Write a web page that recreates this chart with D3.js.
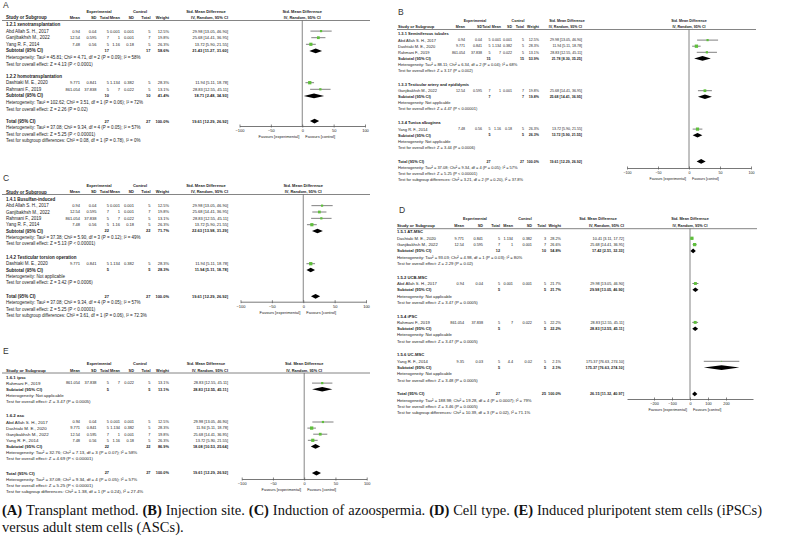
<!DOCTYPE html>
<html>
<head>
<meta charset="utf-8">
<script src="https://cdn.jsdelivr.net/npm/d3@7.9.0/dist/d3.min.js"></script>
<style>
  body { margin: 0; background: #fff; }
  svg { display: block; }
</style>
</head>
<body>
<svg id="fig" width="787" height="540"></svg>
<script>
// study lines: name, exp mean, exp sd, exp n, ctl mean, ctl sd, ctl n, smd, lower, upper
const abdAllah = ["Abd Allah S. H., 2017", "0.94", "0.04", "5", "0.001", "0.001", "5", 29.98, 13.05, 46.90];
const ganjibakhsh = ["Ganjibakhsh M., 2022", "12.54", "0.595", "7", "1", "0.001", "7", 25.68, 14.41, 36.95];
const yang = ["Yang R. F., 2014", "7.48", "0.56", "5", "1.16", "0.18", "5", 13.72, 5.90, 21.55];
const dashtaki = ["Dashtaki M. E., 2020", "9.771", "0.841", "5", "1.134", "0.382", "5", 11.94, 5.11, 18.78];
const rahmani = ["Rahmani F., 2019", "861.054", "37.838", "5", "7", "0.022", "5", 28.83, 12.55, 45.11];
const dashtakiD = ["Dashtaki M. E., 2020", "9.771", "0.841", "5", "1.134", "0.382", "3", 10.41, 3.11, 17.72];
const yangD = ["Yang R. F., 2014", "9.35", "0.03", "5", "4.4", "0.02", "5", 175.37, 76.63, 274.10];

const totalHet = "Heterogeneity: Tau² = 37.08; Chi² = 9.34, df = 4 (P = 0.05); I² = 57%";
const totalZ = "Test for overall effect: Z = 5.25 (P < 0.00001)";
const notApp = "Heterogeneity: Not applicable";

// g = subgroup title, s = study, sub = subtotal, tot = total, n = note line
const rowsA = [
  ["g", "1.2.1 xenotransplantation"],
  ["s", abdAllah, "12.5%"],
  ["s", ganjibakhsh, "19.8%"],
  ["s", yang, "26.3%"],
  ["sub", "17", "17", "58.6%", 21.43, 11.27, 31.60],
  ["n", "Heterogeneity: Tau² = 45.81; Chi² = 4.71, df = 2 (P = 0.09); I² = 58%"],
  ["n", "Test for overall effect: Z = 4.13 (P < 0.0001)"],
  ["g", "1.2.2 homotransplantation"],
  ["s", dashtaki, "28.3%"],
  ["s", rahmani, "13.1%"],
  ["sub", "10", "10", "41.4%", 18.71, 2.48, 34.93],
  ["n", "Heterogeneity: Tau² = 102.62; Chi² = 3.51, df = 1 (P = 0.06); I² = 72%"],
  ["n", "Test for overall effect: Z = 2.26 (P = 0.02)"],
  ["tot", "27", "27", "100.0%", 19.61, 12.29, 26.92],
  ["n", totalHet],
  ["n", totalZ],
  ["n", "Test for subgroup differences: Chi² = 0.08, df = 1 (P = 0.78), I² = 0%"]
];

const rowsB = [
  ["g", "1.3.1 Seminiferous tubules"],
  ["s", abdAllah, "12.5%"],
  ["s", dashtaki, "28.3%"],
  ["s", rahmani, "13.1%"],
  ["sub", "15", "15", "53.9%", 21.78, 8.30, 35.25],
  ["n", "Heterogeneity: Tau² = 88.11; Chi² = 6.34, df = 2 (P = 0.04); I² = 68%"],
  ["n", "Test for overall effect: Z = 3.17 (P = 0.002)"],
  ["g", "1.3.3 Testicular artery and epididymis"],
  ["s", ganjibakhsh, "19.8%"],
  ["sub", "7", "7", "19.8%", 25.68, 14.41, 36.95],
  ["n", notApp],
  ["n", "Test for overall effect: Z = 4.47 (P < 0.00001)"],
  ["g", "1.3.4 Tunica albuginea"],
  ["s", yang, "26.3%"],
  ["sub", "5", "5", "26.3%", 13.72, 5.90, 21.55],
  ["n", notApp],
  ["n", "Test for overall effect: Z = 3.44 (P = 0.0006)"],
  ["tot", "27", "27", "100.0%", 19.61, 12.29, 26.92],
  ["n", totalHet],
  ["n", totalZ],
  ["n", "Test for subgroup differences: Chi² = 3.21, df = 2 (P = 0.20), I² = 37.8%"]
];

const rowsC = [
  ["g", "1.4.1 Busulfan-induced"],
  ["s", abdAllah, "12.5%"],
  ["s", ganjibakhsh, "19.8%"],
  ["s", rahmani, "13.1%"],
  ["s", yang, "26.3%"],
  ["sub", "22", "22", "71.7%", 22.63, 13.98, 31.29],
  ["n", "Heterogeneity: Tau² = 37.38; Chi² = 5.90, df = 3 (P = 0.12); I² = 49%"],
  ["n", "Test for overall effect: Z = 5.13 (P < 0.00001)"],
  ["g", "1.4.2 Testicular torsion operation"],
  ["s", dashtaki, "28.3%"],
  ["sub", "5", "5", "28.3%", 11.94, 5.11, 18.78],
  ["n", notApp],
  ["n", "Test for overall effect: Z = 3.42 (P = 0.0006)"],
  ["tot", "27", "27", "100.0%", 19.61, 12.29, 26.92],
  ["n", totalHet],
  ["n", totalZ],
  ["n", "Test for subgroup differences: Chi² = 3.61, df = 1 (P = 0.06), I² = 72.3%"]
];

const rowsD = [
  ["g", "1.5.1 AT-MSC"],
  ["s", dashtakiD, "28.2%"],
  ["s", ganjibakhsh, "26.6%"],
  ["sub", "12", "10", "54.8%", 17.42, 2.51, 32.33],
  ["n", "Heterogeneity: Tau² = 93.03; Chi² = 4.98, df = 1 (P = 0.03); I² = 80%"],
  ["n", "Test for overall effect: Z = 2.29 (P = 0.02)"],
  ["g", "1.5.2 UCB-MSC"],
  ["s", abdAllah, "21.7%"],
  ["sub", "5", "5", "21.7%", 29.98, 13.05, 46.90],
  ["n", notApp],
  ["n", "Test for overall effect: Z = 3.47 (P = 0.0005)"],
  ["g", "1.5.4 iPSC"],
  ["s", rahmani, "22.2%"],
  ["sub", "5", "5", "22.2%", 28.83, 12.55, 45.11],
  ["n", notApp],
  ["n", "Test for overall effect: Z = 3.47 (P = 0.0005)"],
  ["g", "1.5.6 UC-MSC"],
  ["s", yangD, "2.1%"],
  ["sub", "5", "5", "2.1%", 175.37, 76.63, 274.10],
  ["n", notApp],
  ["n", "Test for overall effect: Z = 3.48 (P = 0.0005)"],
  ["tot", "27", "25", "100.0%", 26.15, 11.32, 40.97],
  ["n", "Heterogeneity: Tau² = 188.98; Chi² = 19.28, df = 4 (P = 0.0007); I² = 79%"],
  ["n", "Test for overall effect: Z = 3.46 (P = 0.0005)"],
  ["n", "Test for subgroup differences: Chi² = 10.39, df = 3 (P = 0.02), I² = 71.1%"]
];

const rowsE = [
  ["g", "1.6.1 ipsc"],
  ["s", rahmani, "13.1%"],
  ["sub", "5", "5", "13.1%", 28.83, 12.55, 45.11],
  ["n", notApp],
  ["n", "Test for overall effect: Z = 3.47 (P = 0.0005)"],
  ["g", "1.6.2 asc"],
  ["s", abdAllah, "12.5%"],
  ["s", dashtaki, "28.3%"],
  ["s", ganjibakhsh, "19.8%"],
  ["s", yang, "26.3%"],
  ["sub", "22", "22", "86.9%", 18.08, 10.53, 25.64],
  ["n", "Heterogeneity: Tau² = 32.76; Chi² = 7.13, df = 3 (P = 0.07); I² = 58%"],
  ["n", "Test for overall effect: Z = 4.69 (P < 0.00001)"],
  ["tot", "27", "27", "100.0%", 19.61, 12.29, 26.92],
  ["n", totalHet],
  ["n", totalZ],
  ["n", "Test for subgroup differences: Chi² = 1.38, df = 1 (P = 0.24), I² = 27.4%"]
];

const colHeads = ["Mean", "SD", "Total", "Mean", "SD", "Total", "Weight", "IV, Random, 95% CI"];
const ticks100 = [-100, -50, 0, 50, 100];
const ticks200 = [-200, -100, 0, 100, 200];

const captionParts = [
  ["(A)", true], ["Transplant method.", false],
  ["(B)", true], ["Injection site.", false],
  ["(C)", true], ["Induction of azoospermia.", false],
  ["(D)", true], ["Cell type.", false],
  ["(E)", true], ["Induced pluripotent stem cells (iPSCs)", false]
];
const captionLine2 = "versus adult stem cells (ASCs).";

// layout of each panel (pixels)
const colsLeft = [80, 96.5, 109, 120, 134, 150.5, 169, 228];
const layA = { label: "A", lx: 3, ly: 5, nameX: 6, cols: colsLeft, expC: 99, ctlC: 140, smdC: 206,
  head1: 12, head2: 17.5, lineY: 20.5, lineX: [2, 370], row0: 24.5, step: 6.6, gap: 12,
  range: [239.5, 365], domain: [-100, 100], ticks: ticks100, axisY: 126, fs: 4.5, cfs: 4.0 };
const layC = { label: "C", lx: 3, ly: 178, nameX: 6, cols: colsLeft, expC: 99, ctlC: 140, smdC: 206,
  head1: 186, head2: 192, lineY: 194.5, lineX: [2, 370], row0: 199.3, step: 6.35, gap: 13.6,
  range: [240.5, 366], domain: [-100, 100], ticks: ticks100, axisY: 301.7, fs: 4.5, cfs: 4.0 };
const layE = { label: "E", lx: 3, ly: 351, nameX: 6, cols: colsLeft, expC: 99, ctlC: 140, smdC: 206,
  head1: 364, head2: 370.5, lineY: 373, lineX: [2, 370], row0: 377, step: 6.1, gap: 14.5,
  range: [241.7, 366.7], domain: [-100, 100], ticks: ticks100, axisY: 479, fs: 4.4, cfs: 3.9 };
const layB = { label: "B", lx: 398, ly: 12.5, nameX: 398, cols: [465, 482, 490.5, 501, 512, 524, 539, 582],
  expC: 475, ctlC: 518, smdC: 567,
  head1: 21, head2: 27, lineY: 29.5, lineX: [397, 756], row0: 34, step: 6.1, gap: 14,
  range: [627, 751], domain: [-100, 100], ticks: ticks100, axisY: 168, fs: 4.0, cfs: 3.6 };
const layD = { label: "D", lx: 399, ly: 210.5, nameX: 397, cols: [464, 483, 500, 513, 532, 546, 561, 624],
  expC: 475, ctlC: 525, smdC: 598,
  head1: 219, head2: 226, lineY: 228.7, lineX: [397, 757], row0: 232, step: 6.3, gap: 13.7,
  range: [627, 753], domain: [-350, 350], ticks: ticks200, axisY: 399, fs: 4.2, cfs: 3.8 };

const svg = d3.select("#fig");
const FONT = "'Liberation Sans', Arial, sans-serif";
const ink = "#222";
const green = "#5fbf3c";

const fmt = v => v.toFixed(2);
const ciText = (m, lo, hi) => `${fmt(m)} [${fmt(lo)}, ${fmt(hi)}]`;

function drawPanel(rows, L) {
  const g = svg.append("g").style("font-family", FONT);
  const x = d3.scaleLinear().domain(L.domain).range(L.range);

  const txt = (s, xx, yy, anchor, bold, size) => g.append("text")
    .attr("x", xx).attr("y", yy).attr("dy", "0.35em")
    .attr("text-anchor", anchor || "start")
    .attr("font-size", size || L.fs)
    .attr("font-weight", bold ? "bold" : "normal")
    .attr("fill", ink)
    .text(s);

  // panel letter
  txt(L.label, L.lx, L.ly, "start", false, 8.5).attr("fill", "#333");

  // headers
  txt("Experimental", L.expC, L.head1, "middle", true, L.cfs);
  txt("Control", L.ctlC, L.head1, "middle", true, L.cfs);
  txt("Std. Mean Difference", L.smdC, L.head1, "middle", true, L.cfs);
  txt("Std. Mean Difference", x(0), L.head1, "middle", true, L.cfs);
  txt("Study or Subgroup", L.nameX, L.head2, "start", true);
  colHeads.forEach((h, i) => txt(h, L.cols[i], L.head2, "end", true, L.cfs));
  txt("IV, Random, 95% CI", x(0), L.head2, "middle", true, L.cfs);

  g.append("line")
    .attr("x1", L.lineX[0]).attr("x2", L.lineX[1])
    .attr("y1", L.lineY).attr("y2", L.lineY)
    .attr("stroke", "#777").attr("stroke-width", 0.9);

  // row positions
  const ys = [];
  let y = L.row0;
  rows.forEach((r, i) => {
    if (i > 0 && (r[0] === "g" || r[0] === "tot")) y += L.gap - L.step;
    ys.push(y);
    y += L.step;
  });

  // zero line
  g.append("line")
    .attr("x1", x(0)).attr("x2", x(0))
    .attr("y1", L.lineY).attr("y2", L.axisY)
    .attr("stroke", "#666").attr("stroke-width", 0.8);

  rows.forEach((r, i) => {
    const ry = ys[i];
    if (r[0] === "g") {
      txt(r[1], L.nameX, ry, "start", true);
    } else if (r[0] === "n") {
      txt(r[1], L.nameX, ry, "start", false);
    } else if (r[0] === "s") {
      const s = r[1];
      txt(s[0], L.nameX, ry, "start", false);
      s.slice(1, 7).forEach((c, k) => txt(c, L.cols[k], ry, "end", false, L.cfs));
      txt(r[2], L.cols[6], ry, "end", false, L.cfs);
      txt(ciText(s[7], s[8], s[9]), L.cols[7], ry, "end", false, L.cfs);
      g.append("line")
        .attr("x1", x(s[8])).attr("x2", x(s[9]))
        .attr("y1", ry).attr("y2", ry)
        .attr("stroke", "#555").attr("stroke-width", 0.75);
      const side = 0.62 * Math.sqrt(parseFloat(r[2]));
      g.append("rect")
        .attr("x", x(s[7]) - side / 2).attr("y", ry - side / 2)
        .attr("width", side).attr("height", side)
        .attr("fill", green);
    } else {
      txt(r[0] === "sub" ? "Subtotal (95% CI)" : "Total (95% CI)", L.nameX, ry, "start", true);
      txt(r[1], L.cols[2], ry, "end", true, L.cfs);
      txt(r[2], L.cols[5], ry, "end", true, L.cfs);
      txt(r[3], L.cols[6], ry, "end", true, L.cfs);
      txt(ciText(r[4], r[5], r[6]), L.cols[7], ry, "end", true, L.cfs);
      const h = 2.3;
      g.append("path")
        .attr("d", `M${x(r[5])},${ry}L${x(r[4])},${ry - h}L${x(r[6])},${ry}L${x(r[4])},${ry + h}Z`)
        .attr("fill", "#000");
    }
  });

  // axis
  const ax = g.append("g")
    .attr("transform", `translate(0,${L.axisY})`)
    .call(d3.axisBottom(x).tickValues(L.ticks).tickSizeInner(2).tickSizeOuter(0));
  ax.select(".domain").attr("stroke", "#555").attr("stroke-width", 0.8);
  ax.selectAll(".tick line").attr("y1", -1.5).attr("y2", 1.5).attr("stroke", "#555").attr("stroke-width", 0.7);
  ax.selectAll(".tick text")
    .attr("y", 3).attr("dy", "0.71em")
    .attr("font-size", L.cfs).attr("font-family", FONT).attr("fill", ink);

  txt("Favours [experimental]", x(0) - 3, L.axisY + 11, "end", false, L.cfs);
  txt("Favours [control]", x(0) + 3, L.axisY + 11, "start", false, L.cfs);
}

drawPanel(rowsA, layA);
drawPanel(rowsB, layB);
drawPanel(rowsC, layC);
drawPanel(rowsD, layD);
drawPanel(rowsE, layE);

// caption: fixed font size, word gaps stretched so the first line fills the width
const cap = svg.append("g")
  .style("font-family", "'Liberation Serif', 'Times New Roman', serif")
  .attr("fill", "#111");
const capFs = 14.5;
const lineW = 760;
const pieces = captionParts.map(p => cap.append("text")
  .attr("y", 515)
  .attr("font-size", capFs)
  .attr("font-weight", p[1] ? "bold" : "normal")
  .text(p[0]));
const spaceW = capFs * 0.25;
const inner = captionParts.map(p => (p[0].match(/ /g) || []).length);
const natural = d3.sum(pieces.map(t => t.node().getComputedTextLength())) + spaceW * (pieces.length - 1);
const extra = (lineW - natural) / (d3.sum(inner) + pieces.length - 1);
let cx = 2;
pieces.forEach(t => {
  t.attr("x", cx).style("word-spacing", `${extra}px`);
  cx += t.node().getComputedTextLength() + spaceW + extra;
});
cap.append("text")
  .attr("x", 2).attr("y", 531.5)
  .attr("font-size", capFs)
  .text(captionLine2);
</script>
</body>
</html>
